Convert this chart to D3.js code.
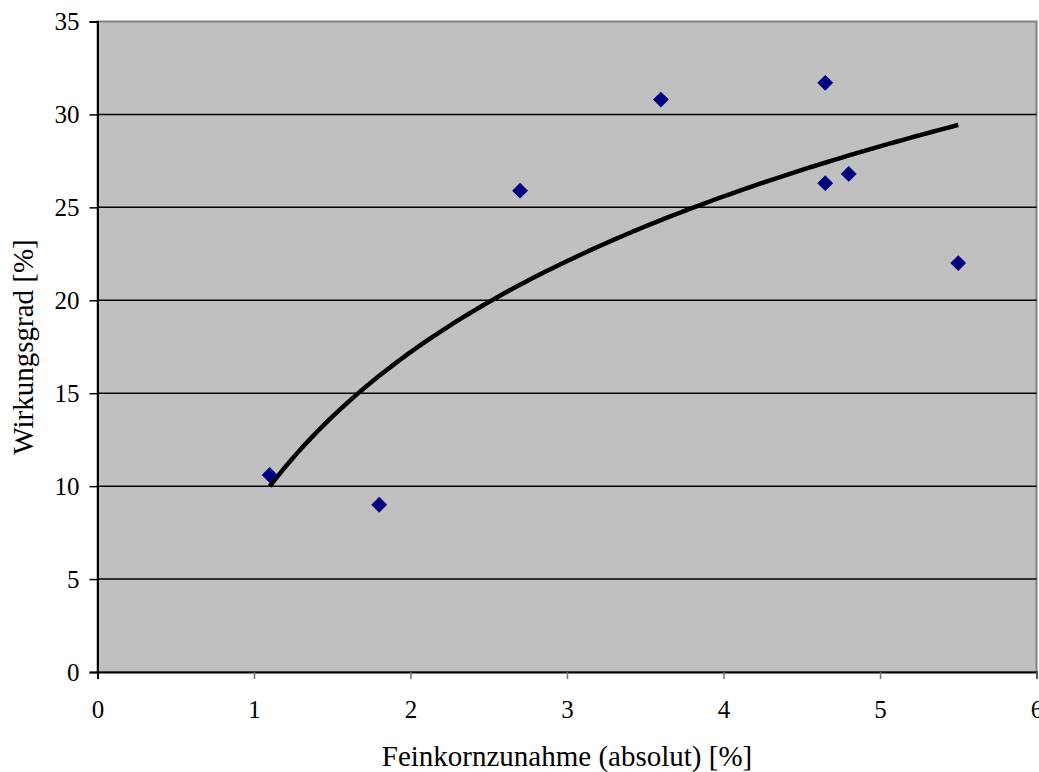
<!DOCTYPE html>
<html lang="de">
<head>
<meta charset="utf-8">
<title>Wirkungsgrad</title>
<script src="https://cdnjs.cloudflare.com/ajax/libs/d3/7.8.5/d3.min.js"></script>
<style>
  body { margin: 0; background: #fff; }
  text { font-family: "Liberation Serif", "Times New Roman", serif; fill: #000; }
</style>
</head>
<body>
<script>
var w = 1039, h = 772;

// Messwerte
var feinkorn = [1.1, 1.8, 2.7, 3.6, 4.65, 4.65, 4.8, 5.5];
var wirkungsgrad = [10.6, 9.0, 25.9, 30.8, 31.7, 26.3, 26.8, 22.0];
var xTicks = [0, 1, 2, 3, 4, 5, 6];
var yTicks = [0, 5, 10, 15, 20, 25, 30, 35];

var pLeft = 97.5, pRight = 1036.5, pTop = 21.5, pBottom = 672;

var x = d3.scaleLinear().domain([0, 6]).range([pLeft, pRight]);
var y = d3.scaleLinear().domain([0, 35]).range([pBottom, pTop]);

var svg = d3.select("body").append("svg")
  .attr("width", w)
  .attr("height", h);

// plot area
svg.append("rect")
  .attr("x", pLeft).attr("y", pTop)
  .attr("width", pRight - pLeft).attr("height", pBottom - pTop)
  .attr("fill", "#c0c0c0")
  .attr("stroke", "#808080")
  .attr("stroke-width", 2);

// gridlines
svg.selectAll("line.grid")
  .data(yTicks.filter(function (d) { return d > 0 && d < 35; }))
  .enter().append("line")
  .attr("class", "grid")
  .attr("x1", pLeft).attr("x2", pRight)
  .attr("y1", function (d) { return y(d); })
  .attr("y2", function (d) { return y(d); })
  .attr("stroke", "#000")
  .attr("stroke-width", 1.5);

// axes
var yAxis = d3.axisLeft(y).tickValues(yTicks).tickFormat(d3.format("d"))
  .tickSize(8).tickPadding(10);
var xAxis = d3.axisBottom(x).tickValues(xTicks).tickFormat(d3.format("d"))
  .tickSize(7).tickPadding(21);

var gy = svg.append("g").attr("transform", "translate(" + pLeft + ",0)").call(yAxis);
var gx = svg.append("g").attr("transform", "translate(0," + pBottom + ")").call(xAxis);

[gx, gy].forEach(function (g) {
  g.select(".domain").attr("stroke", "#000").attr("stroke-width", 2);
  g.selectAll(".tick line").attr("stroke", "#000").attr("stroke-width", 1.5);
  g.selectAll(".tick text")
    .attr("font-family", "Liberation Serif, Times New Roman, serif")
    .attr("font-size", "25px")
    .attr("fill", "#000");
});
gx.selectAll(".tick text").attr("dy", "0.71em");
gx.selectAll(".tick line").filter(function (d) { return d > 0; }).attr("stroke", "#707070");

// logarithmic trend line (least squares on ln x)
var lx = feinkorn.map(Math.log);
var mx = d3.mean(lx), my = d3.mean(wirkungsgrad);
var sxy = d3.sum(lx, function (d, i) { return (d - mx) * (wirkungsgrad[i] - my); });
var sxx = d3.sum(lx, function (d) { return (d - mx) * (d - mx); });
var a = sxy / sxx, b = my - a * mx;
var xmin = d3.min(feinkorn), xmax = d3.max(feinkorn);
var trend = d3.range(0, 101).map(function (i) {
  var xv = xmin + (xmax - xmin) * i / 100;
  return [xv, a * Math.log(xv) + b];
});

svg.append("path")
  .datum(trend)
  .attr("d", d3.line()
    .x(function (d) { return x(d[0]); })
    .y(function (d) { return y(d[1]); }))
  .attr("fill", "none")
  .attr("stroke", "#000")
  .attr("stroke-width", 4.5);

// points
svg.selectAll("path.pt")
  .data(feinkorn)
  .enter().append("path")
  .attr("class", "pt")
  .attr("d", d3.symbol().type(d3.symbolDiamond2).size(160))
  .attr("transform", function (d, i) {
    return "translate(" + x(d) + "," + y(wirkungsgrad[i]) + ")";
  })
  .attr("fill", "#000080");

// axis titles
svg.append("text")
  .attr("x", 567)
  .attr("y", 766)
  .attr("text-anchor", "middle")
  .attr("font-size", "29px")
  .text("Feinkornzunahme (absolut) [%]");

svg.append("text")
  .attr("transform", "translate(33,347) rotate(-90)")
  .attr("text-anchor", "middle")
  .attr("font-size", "29px")
  .text("Wirkungsgrad [%]");
</script>
</body>
</html>
